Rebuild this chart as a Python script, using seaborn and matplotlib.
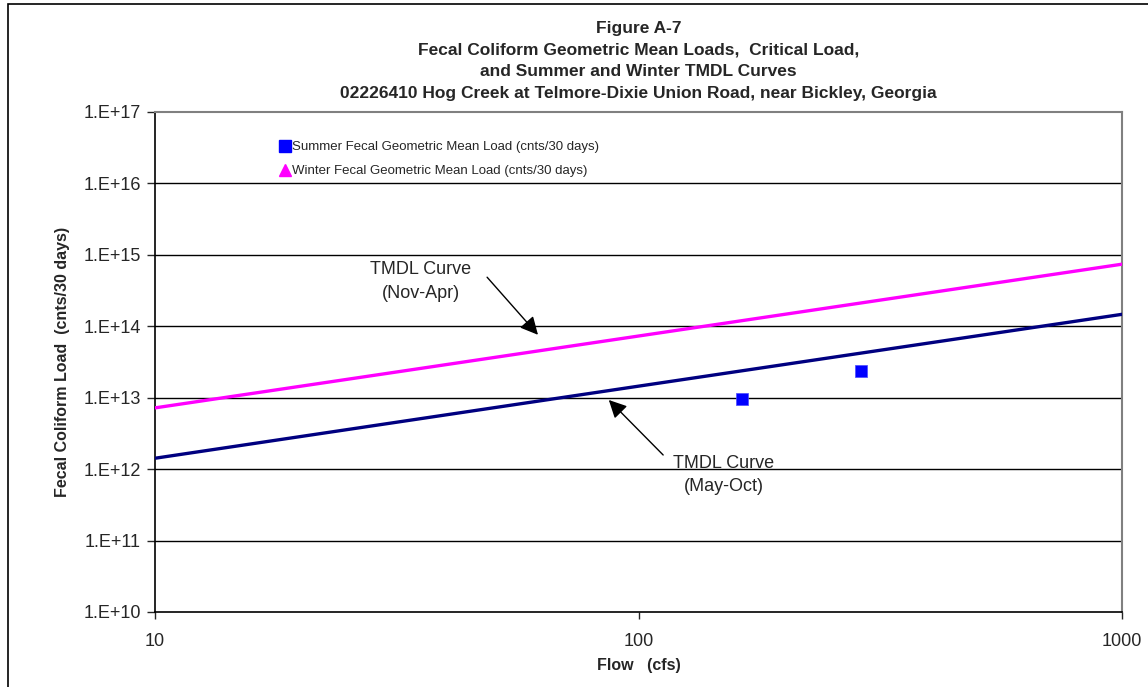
import math
import pandas as pd
import matplotlib.pyplot as plt
import seaborn as sns
from matplotlib.lines import Line2D
from matplotlib.patches import Rectangle
from matplotlib.ticker import FixedLocator, FuncFormatter, NullLocator

# TMDL curves
curve_flow = [10, 100, 1000]
summer_tmdl = [1.42e12, 1.45e13, 1.47e14]   # May-Oct
winter_tmdl = [7.2e12, 7.3e13, 7.4e14]      # Nov-Apr

# geometric mean loads
summer_flow = [164, 288]
summer_load = [9.7e12, 2.4e13]
winter_flow = []
winter_load = []

y_ticks = [1e10, 1e11, 1e12, 1e13, 1e14, 1e15, 1e16, 1e17]
x_ticks = [10, 100, 1000]

sns.set_style("white")
plt.rcParams['font.family'] = ['Liberation Sans', 'DejaVu Sans']

fig = plt.figure(figsize=(11.48, 6.87), dpi=100)
ax = fig.add_axes([0.135, 0.1092, 0.8424, 0.7278])

curves = pd.DataFrame({"flow": curve_flow * 2,
                       "load": summer_tmdl + winter_tmdl,
                       "season": ["May-Oct"] * 3 + ["Nov-Apr"] * 3})
sns.lineplot(data=curves, x="flow", y="load", hue="season",
             palette={"May-Oct": "#000080", "Nov-Apr": "#FF00FF"},
             linewidth=2.4, legend=False, ax=ax, zorder=3)
sns.scatterplot(x=summer_flow, y=summer_load, marker="s", color="#0000FF",
                s=80, edgecolor="#4a4aff", linewidth=0.5, ax=ax, zorder=4)
if winter_flow:
    sns.scatterplot(x=winter_flow, y=winter_load, marker="^", color="#FF00FF",
                    s=80, ax=ax, zorder=4)

ax.set_xscale("log")
ax.set_yscale("log")
ax.set_xlim(10, 1000)
ax.set_ylim(1e10, 1e17)

ax.yaxis.set_major_locator(FixedLocator(y_ticks))
ax.yaxis.set_minor_locator(NullLocator())
ax.yaxis.set_major_formatter(FuncFormatter(lambda v, p: f"1.E+{round(math.log10(v))}"))
ax.xaxis.set_major_locator(FixedLocator(x_ticks))
ax.xaxis.set_minor_locator(NullLocator())
ax.xaxis.set_major_formatter(FuncFormatter(lambda v, p: f"{int(v)}"))

for y in y_ticks[1:-1]:
    ax.axhline(y, color="black", linewidth=1, zorder=1)

ax.tick_params(axis="y", which="major", direction="out", length=6, width=1,
               labelsize=13, pad=4, left=True)
ax.tick_params(axis="x", which="major", direction="out", length=5, width=1,
               labelsize=13, pad=10, bottom=True)
for side in ["left", "bottom"]:
    ax.spines[side].set_color("black")
    ax.spines[side].set_linewidth(1.2)
for side in ["top", "right"]:
    ax.spines[side].set_color("#808080")
    ax.spines[side].set_linewidth(1.5)

ax.set_xlabel("Flow   (cfs)", fontsize=11.5, fontweight="bold", labelpad=6)
ax.set_ylabel("Fecal Coliform Load  (cnts/30 days)", fontsize=11.5,
              fontweight="bold", labelpad=10)
ax.set_title("Figure A-7\nFecal Coliform Geometric Mean Loads,  Critical Load,\n"
             "and Summer and Winter TMDL Curves\n"
             "02226410 Hog Creek at Telmore-Dixie Union Road, near Bickley, Georgia",
             fontsize=12.5, fontweight="bold", linespacing=1.55, pad=10)

handles = [Line2D([], [], linestyle="none", marker="s", color="#0000FF", markersize=8),
           Line2D([], [], linestyle="none", marker="^", color="#FF00FF", markersize=8)]
ax.legend(handles, ["Summer Fecal Geometric Mean Load (cnts/30 days)",
                    "Winter Fecal Geometric Mean Load (cnts/30 days)"],
          loc="upper left", bbox_to_anchor=(0.124, 0.955), frameon=False,
          fontsize=9.5, handlelength=0.6, handletextpad=0.2, labelspacing=0.9,
          borderpad=0)

arrow = dict(arrowstyle="-|>,head_length=0.6,head_width=0.3", color="black",
             lw=1, mutation_scale=18)
ax.annotate("", xy=(62.5, 7.1e13), xytext=(48.2, 5.2e14), arrowprops=arrow)
ax.text(35.5, 4.2e14, "TMDL Curve\n(Nov-Apr)", ha="center", va="center",
        fontsize=13, linespacing=1.5)
ax.annotate("", xy=(86, 9.9e12), xytext=(113.5, 1.48e12), arrowprops=arrow)
ax.text(150, 8.3e11, "TMDL Curve\n(May-Oct)", ha="center", va="center",
        fontsize=13, linespacing=1.5)

fig.patches.append(Rectangle((0.007, -0.1), 1.2, 1.094, transform=fig.transFigure,
                             fill=False, edgecolor="black", linewidth=1.2))

fig.savefig("out.png", dpi=100)
